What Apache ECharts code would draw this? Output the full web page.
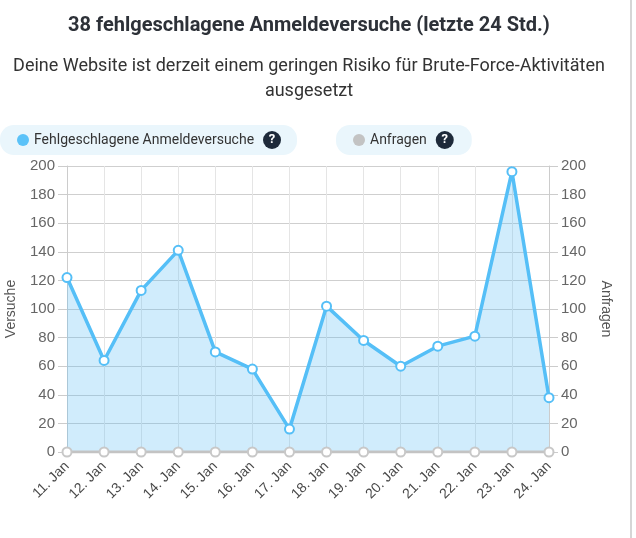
<!DOCTYPE html>
<html>
<head>
<meta charset="utf-8">
<script src="https://cdn.jsdelivr.net/npm/echarts@6/dist/echarts.min.js"></script>
<style>
  html, body { margin: 0; padding: 0; background: #fff; }
  #chart { width: 636px; height: 538px; }
</style>
</head>
<body>
<div id="chart"></div>
<script>
// Daten
var days = ['11. Jan', '12. Jan', '13. Jan', '14. Jan', '15. Jan', '16. Jan', '17. Jan',
            '18. Jan', '19. Jan', '20. Jan', '21. Jan', '22. Jan', '23. Jan', '24. Jan'];
var failedLogins = [122, 64, 113, 141, 70, 58, 16, 102, 78, 60, 74, 81, 196, 38];
var requests = [0, 0, 0, 0, 0, 0, 0, 0, 0, 0, 0, 0, 0, 0];
var yTicks = [0, 200, 20]; // min, max, interval

var chart = echarts.init(document.getElementById('chart'));
var FONT = 'Roboto, sans-serif';
var AXISFONT = '"Liberation Sans", Arial, sans-serif';

// Legende mit "?"-Badge
function legendFmt(name) {
  return '{t|' + name + '}   {q|?}';
}
var legendRich = {
  t: { fontSize: 14, color: '#333', fontFamily: FONT },
  q: {
    width: 18, height: 18, borderRadius: 9, align: 'center',
    backgroundColor: '#1e2a3a', color: '#fff', fontWeight: 'bold', fontSize: 13, fontFamily: FONT
  }
};

var option = {
  animation: false,
  textStyle: { fontFamily: FONT },
  legend: [{
    data: [{ name: 'Fehlgeschlagene Anmeldeversuche', icon: 'circle', itemStyle: { color: '#5bc2f8', borderWidth: 0 } }],
    left: 0, top: 125,
    itemWidth: 12, itemHeight: 12,
    padding: [6, 16, 6, 17],
    backgroundColor: '#eaf6fc',
    borderRadius: 14,
    selectedMode: false,
    formatter: legendFmt,
    textStyle: { rich: legendRich }
  }, {
    data: [{ name: 'Anfragen', icon: 'circle', itemStyle: { color: '#c3c3c3', borderWidth: 0 } }],
    left: 336, top: 125,
    itemWidth: 12, itemHeight: 12,
    padding: [6, 18, 6, 17],
    backgroundColor: '#eaf6fc',
    borderRadius: 14,
    selectedMode: false,
    formatter: legendFmt,
    textStyle: { rich: legendRich }
  }],
  grid: { left: 67, right: 87, top: 166, bottom: 86, outerBoundsMode: 'none' },
  xAxis: {
    type: 'category',
    data: days,
    boundaryGap: false,
    axisLine: { show: true, lineStyle: { color: '#bbb', width: 2 } },
    axisTick: { show: false },
    axisLabel: { rotate: 45, color: '#484848', fontSize: 14, margin: 12, interval: 0, fontFamily: AXISFONT },
    splitLine: { show: true, lineStyle: { color: '#e5e5e5' } }
  },
  yAxis: [{
    type: 'value',
    name: 'Versuche',
    nameLocation: 'middle',
    nameGap: 49,
    nameTextStyle: { color: '#555', fontSize: 14, fontFamily: AXISFONT },
    min: yTicks[0], max: yTicks[1], interval: yTicks[2],
    axisLine: { show: true, lineStyle: { color: '#ccc' } },
    axisTick: { show: true, length: 9, lineStyle: { color: '#ccc' } },
    axisLabel: { color: '#666', fontSize: 15, margin: 12, fontFamily: AXISFONT },
    splitLine: { lineStyle: { color: '#cfcfcf' } }
  }, {
    type: 'value',
    name: 'Anfragen',
    nameLocation: 'middle',
    nameGap: 50,
    nameRotate: -90,
    nameTextStyle: { color: '#555', fontSize: 14, fontFamily: AXISFONT },
    min: yTicks[0], max: yTicks[1], interval: yTicks[2],
    position: 'right',
    axisLine: { show: true, lineStyle: { color: '#ccc' } },
    axisTick: { show: true, length: 9, lineStyle: { color: '#ccc' } },
    axisLabel: { color: '#666', fontSize: 15, margin: 12, fontFamily: AXISFONT },
    splitLine: { show: false }
  }],
  series: [{
    name: 'Fehlgeschlagene Anmeldeversuche',
    type: 'line',
    data: failedLogins,
    yAxisIndex: 0,
    symbol: 'circle',
    symbolSize: 9,
    z: 3,
    lineStyle: { color: '#55bff7', width: 3.5 },
    itemStyle: { color: '#fff', borderColor: '#55bff7', borderWidth: 2 },
    areaStyle: { color: 'rgba(85,185,245,0.4)' }
  }, {
    name: 'Anfragen',
    type: 'line',
    data: requests,
    yAxisIndex: 1,
    symbol: 'circle',
    symbolSize: 9,
    z: 4,
    lineStyle: { color: '#c3c3c3', width: 3 },
    itemStyle: { color: '#fff', borderColor: '#c8c8c8', borderWidth: 2 }
  }],
  graphic: [{
    // Überschrift
    type: 'text',
    x: 309,
    y: 16,
    silent: true,
    style: {
      text: failedLogins[failedLogins.length - 1] + ' fehlgeschlagene Anmeldeversuche (letzte 24 Std.)',
      align: 'center',
      fontSize: 20,
      fontWeight: 'bold',
      fill: '#2d3138',
      fontFamily: FONT
    }
  }, {
    // Untertitel
    type: 'text',
    x: 309,
    y: 54,
    silent: true,
    style: {
      text: 'Deine Website ist derzeit einem geringen Risiko für Brute-Force-Aktivitäten\nausgesetzt',
      align: 'center',
      fontSize: 18,
      lineHeight: 25,
      fill: '#333',
      fontFamily: FONT
    }
  }, {
    type: 'rect',
    shape: { x: 630, y: 0, width: 2, height: 538 },
    style: { fill: '#d6d6d6' },
    silent: true
  }]
};

chart.setOption(option);
</script>
</body>
</html>
